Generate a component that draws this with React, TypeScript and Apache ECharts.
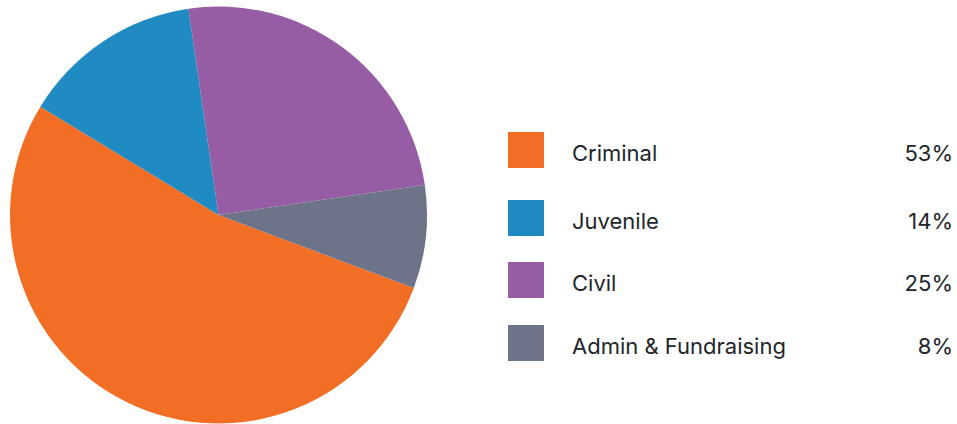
import React, { useEffect, useRef } from "react";
import * as echarts from "echarts";

const categories = ["Criminal", "Juvenile", "Civil", "Admin & Fundraising"];
const values = [53, 14, 25, 8];
const colors = ["#F26E25", "#1F8BC2", "#965CA4", "#6D7388"];

const legendTops = [132, 200, 262, 325];
const FONT = "Inter, 'Noto Sans', sans-serif";

export default function App() {
  const ref = useRef<HTMLDivElement>(null);
  useEffect(() => {
    document.body.style.margin = "0";
    const chart = echarts.init(ref.current!, null, { renderer: "svg" });
    const graphics: any[] = [];
    categories.forEach((name, i) => {
      const top = legendTops[i];
      graphics.push({
        type: "rect",
        shape: { x: 508, y: top, width: 36, height: 36 },
        style: { fill: colors[i] },
        silent: true,
      });
      graphics.push({
        type: "text",
        x: 572,
        y: top + 21,
        style: {
          text: name,
          fill: "#22262c",
          font: `22px ${FONT}`,
          textAlign: "left",
          textVerticalAlign: "middle",
        },
      });
      graphics.push({
        type: "text",
        x: 953,
        y: top + 21,
        style: {
          text: `${values[i]}%`,
          fill: "#22262c",
          font: `22px ${FONT}`,
          textAlign: "right",
          textVerticalAlign: "middle",
        },
      });
    });
    chart.setOption({
      animation: false,
      backgroundColor: "#ffffff",
      series: [
        {
          type: "pie",
          center: [218.5, 215],
          radius: 208.5,
          startAngle: -20.5,
          clockwise: true,
          label: { show: false },
          labelLine: { show: false },
          itemStyle: { borderWidth: 0 },
          emphasis: { disabled: true },
          data: categories.map((name, i) => ({
            name,
            value: values[i],
            itemStyle: { color: colors[i] },
          })),
        },
      ],
      graphic: graphics,
    });
    return () => chart.dispose();
  }, []);
  return <div ref={ref} style={{ width: 957, height: 424 }} />;
}
